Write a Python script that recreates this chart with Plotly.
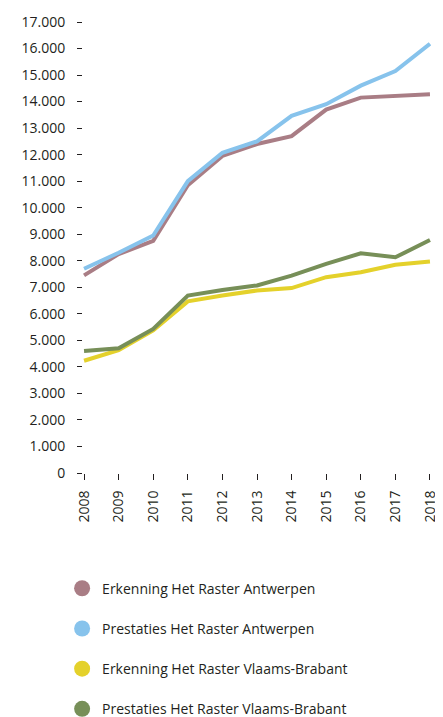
import plotly.graph_objects as go

years = list(range(2008, 2019))

erkenning_antwerpen = [7450, 8250, 8750, 10850, 11950, 12400, 12700, 13700, 14150, 14220, 14280]
prestaties_antwerpen = [7700, 8300, 8950, 11000, 12070, 12500, 13460, 13900, 14600, 15150, 16180]
erkenning_vlaams_brabant = [4230, 4630, 5380, 6470, 6690, 6880, 6970, 7380, 7570, 7850, 7970]
prestaties_vlaams_brabant = [4600, 4700, 5430, 6690, 6900, 7070, 7440, 7880, 8280, 8130, 8780]

series = [
    ("Erkenning Het Raster Antwerpen", erkenning_antwerpen, "#a97d85"),
    ("Prestaties Het Raster Antwerpen", prestaties_antwerpen, "#87c3ec"),
    ("Erkenning Het Raster Vlaams-Brabant", erkenning_vlaams_brabant, "#e4d12b"),
    ("Prestaties Het Raster Vlaams-Brabant", prestaties_vlaams_brabant, "#778f58"),
]

FONT = "Open Sans"

fig = go.Figure()

for name, values, color in series:
    fig.add_trace(
        go.Scatter(
            x=years,
            y=values,
            mode="lines",
            name=name,
            line=dict(color=color, width=4),
            showlegend=False,
        )
    )

# legend entries drawn as circles
for name, values, color in series:
    fig.add_trace(
        go.Scatter(
            x=[None],
            y=[None],
            mode="markers",
            name=name,
            legendgroup=name,
            marker=dict(color=color, size=16),
        )
    )

# page body has an 8px margin, so the figure is a little smaller than the window
fig.update_layout(
    width=435,
    height=709,
    margin=dict(l=75, r=12, t=14, b=244, autoexpand=False),
    paper_bgcolor="white",
    plot_bgcolor="white",
    separators=",.",
    font=dict(family=FONT, size=14, color="#231f20"),
    legend=dict(
        x=-0.06,
        xanchor="left",
        y=-0.221,
        yanchor="top",
        orientation="v",
        traceorder="grouped",
        tracegroupgap=19,
        font=dict(family=FONT, size=14, color="#231f20"),
        itemsizing="trace",
    ),
)

fig.update_xaxes(
    range=[2007.97, 2018.03],
    tickvals=years,
    ticktext=[str(y) for y in years],
    tickangle=-90,
    ticks="outside",
    ticklen=6,
    tickcolor="#231f20",
    tickwidth=1,
    showgrid=False,
    zeroline=False,
    showline=False,
    ticklabelstandoff=5,
    tickfont=dict(size=14),
)

fig.update_yaxes(
    range=[0, 17000],
    tickvals=list(range(0, 17001, 1000)),
    tickformat=",d",
    ticks="outside",
    ticklen=5,
    tickcolor="#231f20",
    tickwidth=1,
    showgrid=False,
    zeroline=False,
    showline=False,
    ticklabelstandoff=9,
    tickfont=dict(size=14),
)

fig.write_html("out.html")
